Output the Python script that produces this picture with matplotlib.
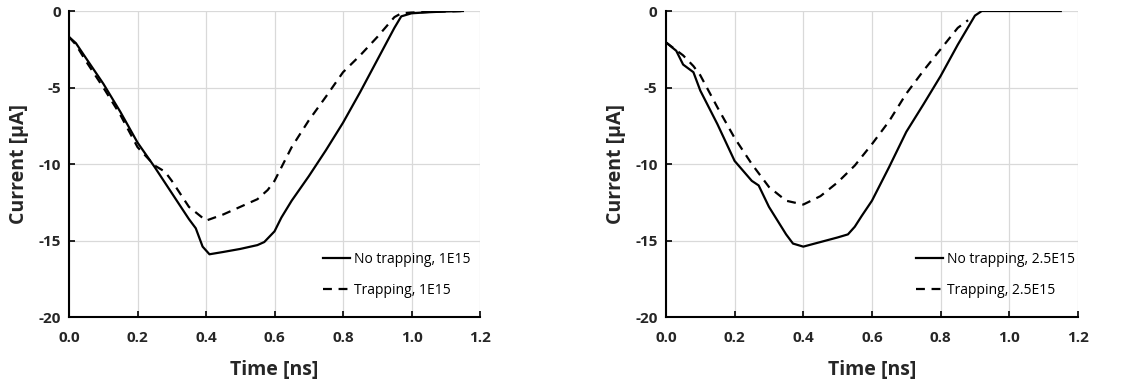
import matplotlib
matplotlib.use("Agg")
import matplotlib.pyplot as plt

# ---- data ----
t_left_nt = [0.0, 0.02, 0.05, 0.1, 0.15, 0.2, 0.25, 0.3, 0.35, 0.37, 0.39, 0.41, 0.45, 0.5, 0.55, 0.57, 0.6, 0.62, 0.65, 0.7, 0.75, 0.8, 0.85, 0.9, 0.95, 0.97, 1.0, 1.05, 1.1, 1.15]
i_left_nt = [-1.7, -2.1, -3.1, -4.75, -6.6, -8.6, -10.2, -11.9, -13.6, -14.2, -15.4, -15.9, -15.75, -15.55, -15.3, -15.1, -14.4, -13.5, -12.4, -10.8, -9.1, -7.3, -5.3, -3.2, -1.1, -0.35, -0.15, -0.08, -0.03, 0.0]

t_left_tr = [0.0, 0.02, 0.05, 0.1, 0.15, 0.2, 0.25, 0.28, 0.3, 0.35, 0.4, 0.45, 0.5, 0.55, 0.58, 0.6, 0.65, 0.7, 0.75, 0.8, 0.85, 0.9, 0.95, 0.97, 1.0, 1.05, 1.1, 1.15]
i_left_tr = [-1.7, -2.2, -3.3, -5.0, -6.8, -8.9, -10.1, -10.5, -11.1, -12.8, -13.7, -13.3, -12.8, -12.3, -11.7, -11.1, -8.9, -7.15, -5.6, -4.0, -2.9, -1.7, -0.4, -0.15, -0.1, -0.06, -0.03, 0.0]

t_right_nt = [0.0, 0.03, 0.05, 0.08, 0.1, 0.15, 0.2, 0.25, 0.27, 0.3, 0.35, 0.37, 0.4, 0.45, 0.5, 0.53, 0.55, 0.57, 0.6, 0.65, 0.7, 0.75, 0.8, 0.85, 0.9, 0.92, 1.0, 1.15]
i_right_nt = [-2.05, -2.6, -3.5, -4.0, -5.2, -7.4, -9.8, -11.1, -11.4, -12.8, -14.6, -15.2, -15.4, -15.1, -14.8, -14.6, -14.1, -13.4, -12.4, -10.2, -7.9, -6.1, -4.25, -2.2, -0.3, 0.0, 0.0, 0.0]

t_right_tr = [0.0, 0.05, 0.08, 0.1, 0.15, 0.2, 0.25, 0.3, 0.35, 0.4, 0.45, 0.5, 0.55, 0.6, 0.65, 0.7, 0.75, 0.8, 0.85, 0.88]
i_right_tr = [-2.05, -2.9, -3.6, -4.2, -6.3, -8.3, -10.0, -11.5, -12.4, -12.65, -12.1, -11.2, -10.1, -8.7, -7.2, -5.4, -3.9, -2.5, -1.1, -0.6]

labels_left = ["No trapping, 1E15", "Trapping, 1E15"]
labels_right = ["No trapping, 2.5E15", "Trapping, 2.5E15"]
x_ticks = [0.0, 0.2, 0.4, 0.6, 0.8, 1.0, 1.2]
y_ticks = [0, -5, -10, -15, -20]

plt.rcParams['font.family'] = ['Open Sans', 'DejaVu Sans']

fig = plt.figure(figsize=(11.47, 3.85), dpi=100)
ax1 = fig.add_axes([0.0602, 0.1766, 0.3583, 0.7948])
ax2 = fig.add_axes([0.5806, 0.1766, 0.3592, 0.7948])

panels = [
    (ax1, t_left_nt, i_left_nt, t_left_tr, i_left_tr, labels_left, 0.99),
    (ax2, t_right_nt, i_right_nt, t_right_tr, i_right_tr, labels_right, 1.006),
]

for ax, tn, yn, tt, yt, labs, lx in panels:
    ax.plot(tn, yn, color='black', lw=1.6, label=labs[0])
    ax.plot(tt, yt, color='black', lw=1.6, ls=(0, (4, 3)), label=labs[1])
    ax.set_xlim(0, 1.2)
    ax.set_ylim(-20, 0)
    ax.set_xticks(x_ticks)
    ax.set_xticklabels([f"{v:.1f}" for v in x_ticks])
    ax.set_yticks(y_ticks)
    ax.set_yticklabels([str(v) for v in y_ticks])
    ax.grid(True, color='#d9d9d9', lw=0.9)
    ax.set_axisbelow(True)
    for s in ['top', 'right']:
        ax.spines[s].set_visible(False)
    for s in ['left', 'bottom']:
        ax.spines[s].set_linewidth(1.5)
        ax.spines[s].set_color('black')
    ax.tick_params(axis='both', direction='in', length=4, width=1.2, labelsize=11)
    ax.tick_params(axis='x', pad=10)
    ax.tick_params(axis='y', pad=6)
    for lab in ax.get_xticklabels() + ax.get_yticklabels():
        lab.set_fontweight('bold')
        lab.set_color('#262626')
    ax.set_xlabel("Time [ns]", fontsize=14, fontweight='bold', color='#262626', labelpad=11)
    ax.set_ylabel("Current [µA]", fontsize=14, fontweight='bold', color='#262626', labelpad=7)
    ax.legend(loc='lower right', frameon=False, fontsize=10, handlelength=2.0,
              handletextpad=0.25, labelspacing=1.15, borderaxespad=0.0,
              bbox_to_anchor=(lx, 0.045))

fig.savefig("out.png", dpi=100)
